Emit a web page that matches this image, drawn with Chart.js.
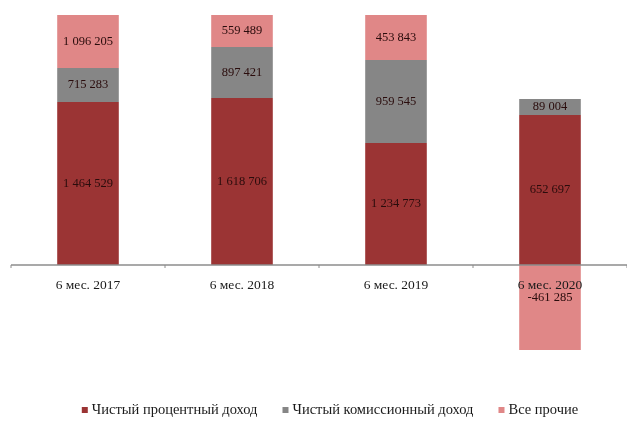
<!DOCTYPE html>
<html>
<head>
<meta charset="utf-8">
<script src="https://cdn.jsdelivr.net/npm/chart.js@4.4.1/dist/chart.umd.min.js"></script>
<style>
    html, body { margin: 0; padding: 0; background: #fff; }
    #wrap { width: 627px; height: 421px; }
</style>
</head>
<body>
<div id="wrap"><canvas id="chart"></canvas></div>
<script>
// periods
const periods = ['6 мес. 2017', '6 мес. 2018', '6 мес. 2019', '6 мес. 2020'];

// bar heights as drawn (segments of the stacked bars)
const interestIncome = [1630, 1670, 1220, 1500];
const commissionIncome = [340, 510, 830, 160];
const otherIncome = [530, 320, 450, -850];

// value labels printed on the segments
const interestLabels = ['1 464 529', '1 618 706', '1 234 773', '652 697'];
const commissionLabels = ['715 283', '897 421', '959 545', '89 004'];
const otherLabels = ['1 096 205', '559 489', '453 843', '-461 285'];

const seriesNames = ['Чистый процентный доход', 'Чистый комиссионный доход', 'Все прочие'];
const seriesColors = ['#9b3434', '#868686', '#e08787'];

const serif = "'Liberation Serif', 'DejaVu Serif', serif";

// zero line, small ticks, category names, segment values and legend
const annotate = {
    id: 'annotate',
    afterDatasetsDraw(chart) {
        const ctx = chart.ctx;
        const area = chart.chartArea;
        const x = chart.scales.x;
        const y0 = chart.scales.y.getPixelForValue(0);
        const step = x.getPixelForValue(1) - x.getPixelForValue(0);

        ctx.save();
        ctx.strokeStyle = '#8c8c8c';
        ctx.lineWidth = 1.5;
        ctx.beginPath();
        ctx.moveTo(area.left, y0);
        ctx.lineTo(area.right, y0);
        ctx.stroke();

        ctx.lineWidth = 1;
        for (let i = 0; i <= periods.length; i++) {
            const px = x.getPixelForValue(0) - step / 2 + i * step;
            ctx.beginPath();
            ctx.moveTo(px, y0);
            ctx.lineTo(px, y0 + 3);
            ctx.stroke();
        }

        ctx.fillStyle = '#1a1a1a';
        ctx.font = '13.5px ' + serif;
        ctx.textAlign = 'center';
        ctx.textBaseline = 'middle';
        periods.forEach((p, i) => ctx.fillText(p, x.getPixelForValue(i), y0 + 20));

        const labelSets = [interestLabels, commissionLabels, otherLabels];
        ctx.font = '12.5px ' + serif;
        ctx.fillStyle = '#2a0c0c';
        chart.data.datasets.forEach((ds, d) => {
            const meta = chart.getDatasetMeta(d);
            meta.data.forEach((bar, i) => {
                let cy = (bar.y + bar.base) / 2;
                if (ds.data[i] < 0) cy = bar.base + 33;
                ctx.fillText(labelSets[d][i], bar.x, cy);
            });
        });

        // legend row under the chart
        ctx.font = '14.5px ' + serif;
        ctx.textAlign = 'left';
        const gap = 25;
        const widths = seriesNames.map(n => ctx.measureText(n).width + 10);
        const total = widths.reduce((a, b) => a + b, 0) + gap * (widths.length - 1);
        let lx = 330 - total / 2;
        const ly = 410;
        seriesNames.forEach((n, i) => {
            ctx.fillStyle = seriesColors[i];
            ctx.fillRect(lx, ly - 3, 6, 6);
            ctx.fillStyle = '#1a1a1a';
            ctx.fillText(n, lx + 10, ly);
            lx += widths[i] + gap;
        });
        ctx.restore();
    }
};

new Chart(document.getElementById('chart'), {
    type: 'bar',
    data: {
        labels: periods,
        datasets: [
            { label: seriesNames[0], data: interestIncome, backgroundColor: seriesColors[0] },
            { label: seriesNames[1], data: commissionIncome, backgroundColor: seriesColors[1] },
            { label: seriesNames[2], data: otherIncome, backgroundColor: seriesColors[2] }
        ]
    },
    options: {
        responsive: true,
        maintainAspectRatio: false,
        animation: false,
        layout: { padding: { top: 15, left: 11, right: 0, bottom: 21 } },
        datasets: {
            bar: { categoryPercentage: 1, barPercentage: 0.4 }
        },
        plugins: {
            legend: { display: false },
            tooltip: { enabled: false }
        },
        scales: {
            x: { stacked: true, display: false },
            y: {
                stacked: true,
                display: false,
                min: -1350,
                max: 2500
            }
        }
    },
    plugins: [annotate]
});
</script>
</body>
</html>
